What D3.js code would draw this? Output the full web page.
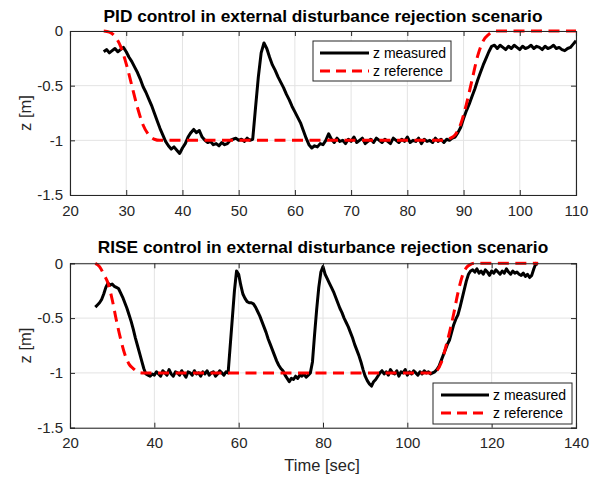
<!DOCTYPE html>
<html><head><meta charset="utf-8">
<script src="https://cdn.jsdelivr.net/npm/d3@7"></script>
<style>body{margin:0;background:#fff}svg{display:block}text{font-family:Arial,"Liberation Sans",Helvetica,sans-serif}</style>
</head><body><svg id="c" width="596" height="479"></svg>
<script>
// ---------- DATA ----------
const titles = ["PID control in external disturbance rejection scenario","RISE control in external disturbance rejection scenario"];
const legendLabels = ["z measured","z reference"];
const xLabel = "Time [sec]";
const yLabel = "z [m]";
const xTicksPID = [20,30,40,50,60,70,80,90,100,110];
const xTicksRISE = [20,40,60,80,100,120,140];
const yTicks = [0,-0.5,-1,-1.5];

// measured z, sampled every 0.5 s starting at 26 s
const sampleStart = 26, sampleStep = 0.5;
const pidMeasured = [
-0.19,-0.17,-0.20,-0.18,-0.16,-0.19,-0.17,-0.15,-0.19,-0.24,
-0.28,-0.33,-0.38,-0.44,-0.51,-0.56,-0.62,-0.68,-0.75,-0.82,
-0.89,-0.95,-1.01,-1.05,-1.08,-1.06,-1.09,-1.12,-1.07,-1.03,
-0.97,-0.93,-0.90,-0.93,-0.91,-0.97,-1.00,-1.02,-1.01,-1.04,
-1.03,-1.05,-1.02,-1.04,-1.03,-1.00,-0.99,-0.98,-1.00,-0.99,
-1.01,-0.98,-1.00,-0.99,-0.70,-0.42,-0.20,-0.11,-0.16,-0.24,
-0.31,-0.36,-0.42,-0.47,-0.52,-0.58,-0.63,-0.69,-0.74,-0.79,
-0.84,-0.91,-0.98,-1.04,-1.07,-1.05,-1.06,-1.03,-1.04,-1.00,
-0.94,
-0.99,-1.02,-0.98,-1.01,-1.00,-1.03,-0.99,-1.01,-0.97,-1.02,
-1.00,-0.98,-1.03,-1.01,-0.99,-1.02,-0.98,-1.00,-1.02,-0.99,
-1.01,-1.03,-0.98,-1.00,-1.02,-0.99,-1.01,-0.97,-1.02,-1.00,
-1.01,-0.98,-1.03,-0.99,-1.01,-1.00,-1.02,-0.98,-1.01,-0.99,-1.02,
-0.99,-1.00,-0.98,-0.97,-0.93,-0.88,-0.80,-0.73,-0.67,-0.60,
-0.53,-0.45,-0.38,-0.31,-0.25,-0.19,-0.14,-0.13,
-0.16,-0.13,-0.15,-0.17,-0.14,-0.16,-0.13,-0.15,-0.17,-0.14,
-0.16,-0.15,-0.13,-0.16,-0.14,-0.15,-0.17,-0.14,-0.16,-0.15,
-0.13,-0.16,-0.15,-0.17,-0.18,-0.16,-0.15,-0.12,-0.09
];
const riseMeasured = [
-0.40,-0.38,-0.36,-0.33,-0.28,-0.22,-0.18,-0.20,-0.19,-0.21,
-0.22,-0.23,-0.27,-0.31,-0.36,-0.41,-0.47,-0.53,-0.60,-0.68,
-0.75,-0.82,-0.89,-0.96,-1.01,-1.02,-1.03,-1.01,
-1.02,-0.99,-1.01,-1.03,-0.98,-1.00,-1.02,-0.97,-1.01,-1.03,
-0.99,-1.00,-1.02,-0.98,-1.01,-1.04,-0.99,-1.00,-1.02,-0.98,
-1.01,-1.00,-1.03,-0.99,-1.01,-0.98,-1.02,-1.00,-0.99,-1.03,
-1.01,-0.98,-1.00,-1.02,-0.99,
-1.00,-0.75,-0.50,-0.25,-0.07,-0.10,-0.20,-0.28,-0.32,-0.35,
-0.36,-0.36,-0.37,-0.40,-0.44,-0.48,-0.53,-0.58,-0.63,-0.69,
-0.74,-0.79,-0.84,-0.89,-0.93,-0.96,-0.98,-1.02,-1.05,-1.08,
-1.05,-1.06,-1.03,-1.05,-1.02,-1.03,-1.01,-1.04,-1.02,-1.00,
-0.90,-0.65,-0.42,-0.22,-0.08,-0.03,-0.10,-0.14,-0.18,-0.22,
-0.26,-0.31,-0.36,-0.41,-0.45,-0.50,-0.54,-0.58,-0.63,-0.68,
-0.74,-0.79,-0.84,-0.90,-0.97,-1.03,-1.07,-1.10,-1.12,-1.08,
-1.06,-1.03,-1.00,
-0.98,-1.01,-0.99,-1.02,-0.97,-1.00,-1.01,-0.98,-1.03,-0.99,
-1.00,-0.97,-1.02,-0.99,-1.01,-0.98,-1.00,-1.02,-0.99,-1.01,
-0.98,-1.00,-0.99,-1.01,
-1.00,-0.99,-0.97,-0.94,-0.89,-0.84,-0.79,-0.74,-0.70,-0.63,
-0.56,-0.51,-0.47,-0.40,-0.32,-0.24,-0.16,-0.10,-0.07,-0.06,
-0.08,-0.05,-0.09,-0.07,-0.10,-0.06,-0.08,-0.11,-0.07,-0.09,
-0.06,-0.08,-0.10,-0.07,-0.09,-0.05,-0.08,-0.10,-0.07,-0.09,
-0.08,-0.10,
-0.11,-0.09,-0.12,-0.10,-0.13,-0.11,-0.05,0.00,-0.01
];
// reference z (time, value)
const pidRefT = [26,27,28,29,30,31,32,33,34,35,36,86.5,87.5,88.5,89.5,90.5,91.5,92.5,93.5,94.5,95.5,110];
const pidRefZ = [0,-0.01,-0.05,-0.14,-0.30,-0.50,-0.70,-0.86,-0.95,-0.99,-1,-1,-0.985,-0.95,-0.85,-0.67,-0.45,-0.23,-0.09,-0.03,0,0];
const riseRefT = [26,27,28,29,30,31,32,33,34,35,36,37,106,107,108,109,110,111,112,113,114,115,116,131];
const riseRefZ = [0,-0.03,-0.10,-0.18,-0.33,-0.52,-0.69,-0.83,-0.92,-0.96,-0.99,-1,-1,-0.98,-0.91,-0.78,-0.63,-0.46,-0.27,-0.12,-0.04,-0.01,0,0];

// ---------- DRAW ----------
const svg = d3.select("#c");
const axColor = "#262626";
const panels = [
  {title:titles[0], xDomain:[20,110], xTicks:xTicksPID, top:31, bottom:195, meas:pidMeasured, refT:pidRefT, refZ:pidRefZ,
   titleY:21.5, leg:{x:313,y:41,w:138,h:40,lx1:320,lx2:369,tx:373,r1:53,r2:71}, xlabel:false},
  {title:titles[1], xDomain:[20,140], xTicks:xTicksRISE, top:263.3, bottom:427.7, meas:riseMeasured, refT:riseRefT, refZ:riseRefZ,
   titleY:253, leg:{x:433,y:383,w:139,h:41,lx1:441,lx2:489,tx:493,r1:395,r2:413}, xlabel:true}
];
const L = 70, R = 576;

panels.forEach((p, pi) => {
  const x = d3.scaleLinear().domain(p.xDomain).range([L, R]);
  const y = d3.scaleLinear().domain([-1.5, 0]).range([p.bottom, p.top]);
  const g = svg.append("g");
  // grid
  g.append("g").selectAll("line").data(p.xTicks).join("line")
    .attr("x1", d => x(d)).attr("x2", d => x(d)).attr("y1", p.top).attr("y2", p.bottom)
    .attr("stroke", "#e3e3e3").attr("stroke-width", 1);
  g.append("g").selectAll("line").data(yTicks).join("line")
    .attr("x1", L).attr("x2", R).attr("y1", d => y(d)).attr("y2", d => y(d))
    .attr("stroke", "#e3e3e3").attr("stroke-width", 1);

  const clipId = "clip" + pi;
  svg.append("clipPath").attr("id", clipId).append("rect")
    .attr("x", L).attr("y", p.top - 2).attr("width", R - L).attr("height", p.bottom - p.top + 4);

  const plot = g.append("g").attr("clip-path", `url(#${clipId})`);
  const measLine = d3.line().x((d, i) => x(sampleStart + i * sampleStep)).y(d => y(d));
  plot.append("path").datum(p.meas).attr("d", measLine)
    .attr("fill", "none").attr("stroke", "#000").attr("stroke-width", 3).attr("stroke-linejoin", "round");
  const refLine = d3.line().x(d => x(d[0])).y(d => y(d[1])).curve(d3.curveMonotoneX);
  plot.append("path").datum(p.refT.map((t, i) => [t, p.refZ[i]])).attr("d", refLine)
    .attr("fill", "none").attr("stroke", "#ff0000").attr("stroke-width", 3).attr("stroke-dasharray", "11,6.5");

  // axes
  const fmt = d => String(d);
  const ab = g.append("g").attr("transform", `translate(0,${p.bottom})`)
    .call(d3.axisBottom(x).tickValues(p.xTicks).tickSize(-5).tickPadding(10).tickFormat(fmt));
  const at = g.append("g").attr("transform", `translate(0,${p.top})`)
    .call(d3.axisTop(x).tickValues(p.xTicks).tickSize(-5).tickFormat(""));
  const al = g.append("g").attr("transform", `translate(${L},0)`)
    .call(d3.axisLeft(y).tickValues(yTicks).tickSize(-5).tickPadding(7).tickFormat(fmt));
  const ar = g.append("g").attr("transform", `translate(${R},0)`)
    .call(d3.axisRight(y).tickValues(yTicks).tickSize(-5).tickFormat(""));
  [ab, at, al, ar].forEach(a => {
    a.select(".domain").attr("stroke", axColor).attr("stroke-width", 1.1);
    a.selectAll(".tick line").attr("stroke", axColor).attr("stroke-width", 1);
    a.selectAll(".tick text").attr("fill", axColor).style("font-size", "15px").style("font-family", "Arial, 'Liberation Sans', sans-serif");
  });

  // title
  svg.append("text").attr("x", 323).attr("y", p.titleY).attr("text-anchor", "middle")
    .style("font-size", "17.3px").style("font-weight", "bold").attr("fill", "#000").text(p.title);
  // y label
  svg.append("text").attr("transform", `translate(31,${(p.top + p.bottom) / 2}) rotate(-90)`)
    .attr("text-anchor", "middle").style("font-size", "16.5px").attr("fill", axColor).text(yLabel);
  if (p.xlabel) {
    svg.append("text").attr("x", 322).attr("y", 471).attr("text-anchor", "middle")
      .style("font-size", "16.5px").attr("fill", axColor).text(xLabel);
  }
  // legend
  const lg = p.leg;
  svg.append("rect").attr("x", lg.x).attr("y", lg.y).attr("width", lg.w).attr("height", lg.h)
    .attr("fill", "#fff").attr("stroke", axColor).attr("stroke-width", 1);
  svg.append("line").attr("x1", lg.lx1).attr("x2", lg.lx2).attr("y1", lg.r1).attr("y2", lg.r1)
    .attr("stroke", "#000").attr("stroke-width", 3);
  svg.append("line").attr("x1", lg.lx1).attr("x2", lg.lx2).attr("y1", lg.r2).attr("y2", lg.r2)
    .attr("stroke", "#ff0000").attr("stroke-width", 3).attr("stroke-dasharray", "10,6");
  [lg.r1, lg.r2].forEach((ry, k) => {
    svg.append("text").attr("x", lg.tx).attr("y", ry).attr("dy", "0.35em")
      .style("font-size", "14px").attr("fill", "#000").text(legendLabels[k]);
  });
});
</script></body></html>
